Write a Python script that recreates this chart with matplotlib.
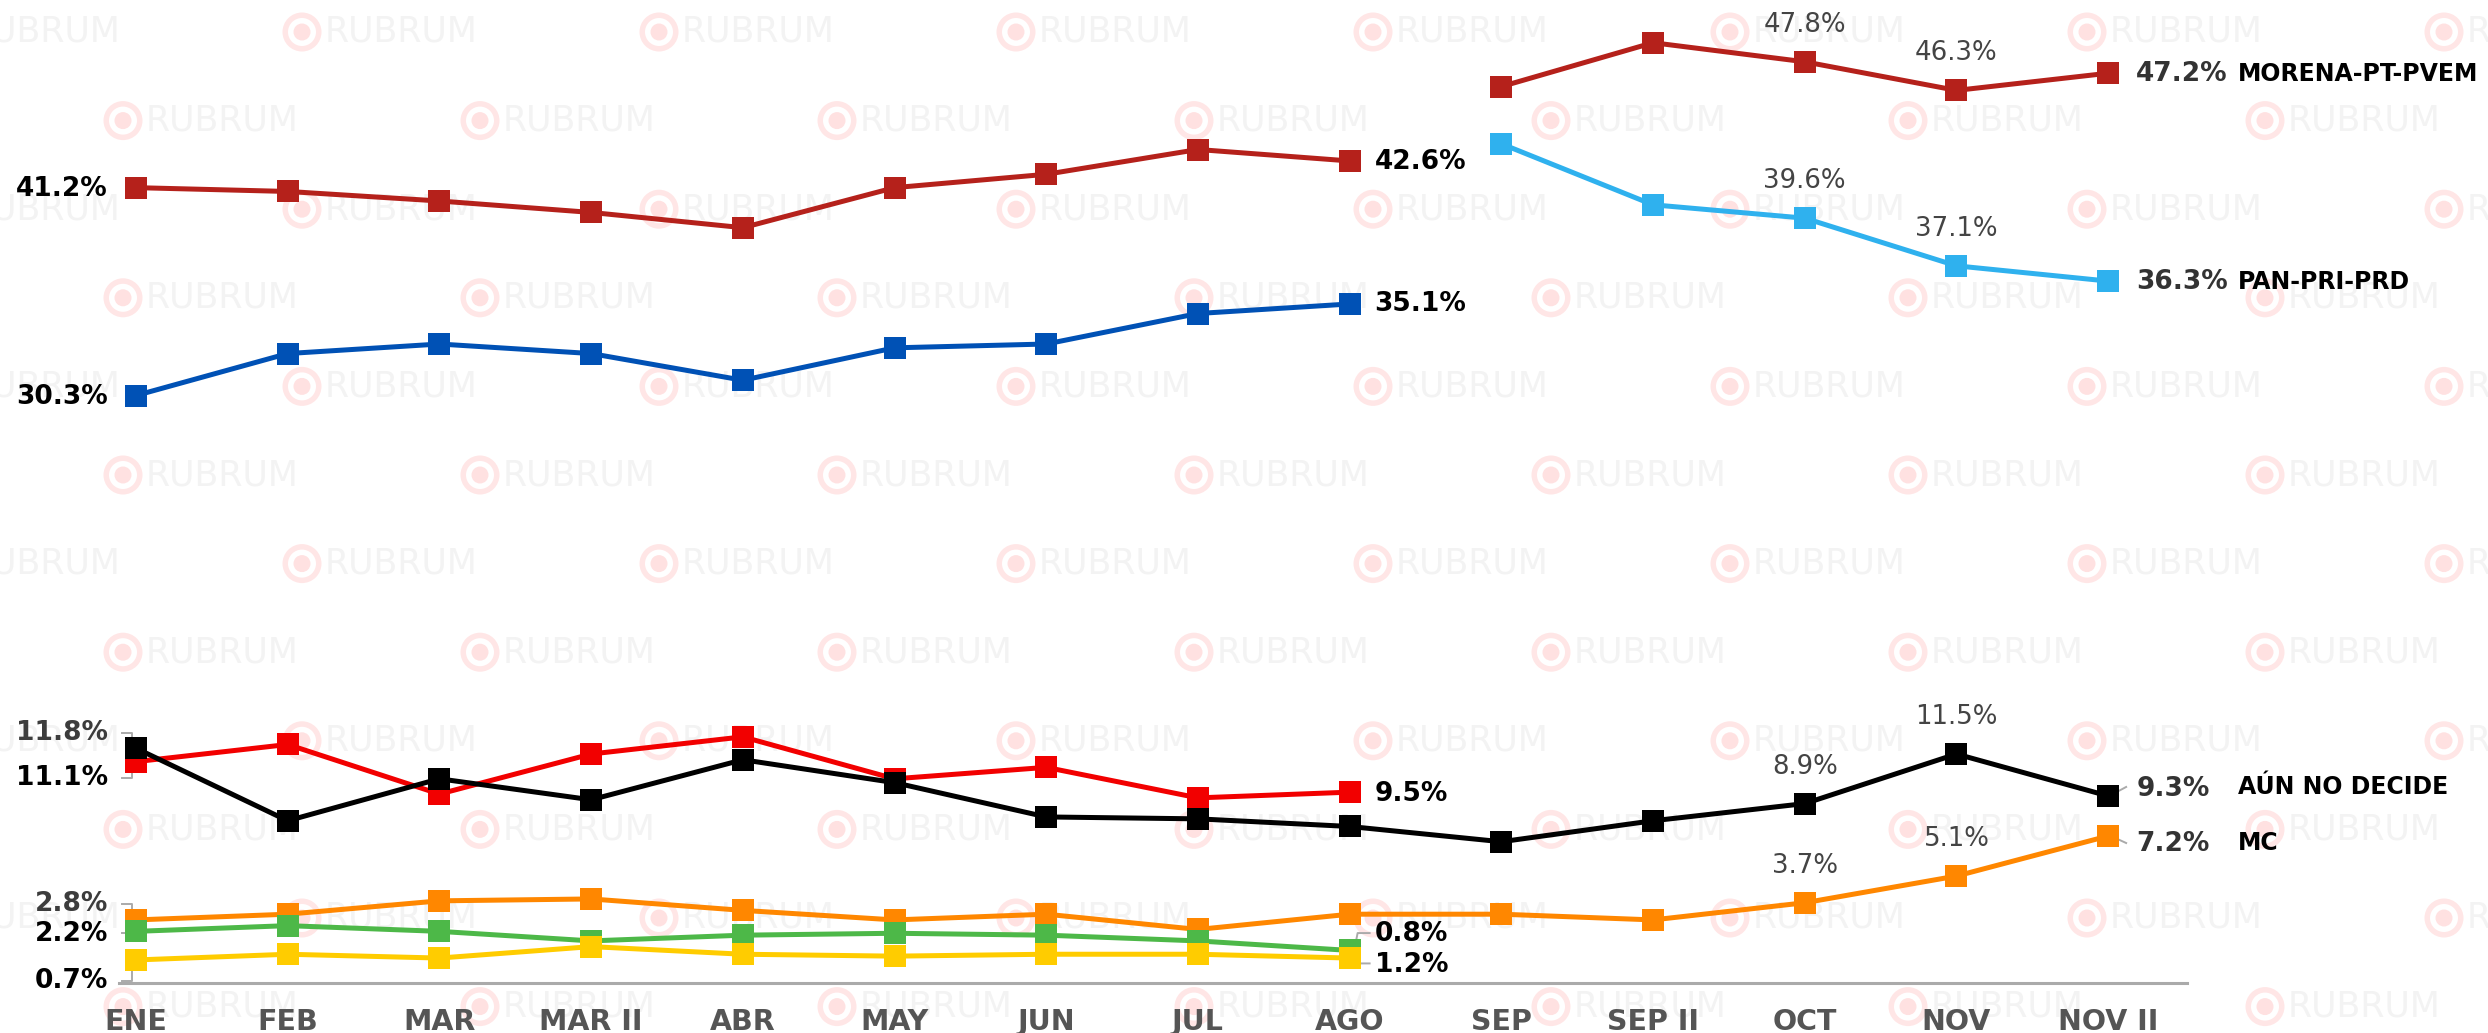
import matplotlib
matplotlib.use("Agg")
import matplotlib.pyplot as plt
from matplotlib.patches import Circle
from matplotlib.lines import Line2D
from matplotlib.transforms import IdentityTransform

# datos
meses = ['ENE', 'FEB', 'MAR', 'MAR II', 'ABR', 'MAY', 'JUN', 'JUL', 'AGO',
         'SEP', 'SEP II', 'OCT', 'NOV', 'NOV II']

morena = [41.2, 41.0, 40.5, 39.9, 39.1, 41.2, 41.9, 43.2, 42.6]
morena_pt_pvem = [46.5, 48.8, 47.8, 46.3, 47.2]
pan = [30.3, 32.5, 33.0, 32.5, 31.1, 32.8, 33.0, 34.6, 35.1]
pan_pri_prd = [43.5, 40.3, 39.6, 37.1, 36.3]
pri = [11.1, 12.0, 9.4, 11.5, 12.4, 10.2, 10.8, 9.2, 9.5]
no_decide = [11.8, 8.0, 10.2, 9.1, 11.2, 10.0, 8.2, 8.1, 7.7, 6.9, 8.0, 8.9, 11.5, 9.3]
mc = [2.8, 3.1, 3.8, 3.9, 3.3, 2.8, 3.1, 2.3, 3.1, 3.1, 2.8, 3.7, 5.1, 7.2]
verde = [2.2, 2.5, 2.2, 1.7, 2.0, 2.1, 2.0, 1.7, 1.2]
amarillo = [0.7, 1.0, 0.8, 1.4, 1.0, 0.9, 1.0, 1.0, 0.8]

x_ant = list(range(9))        # ENE..AGO
x_post = list(range(9, 14))   # SEP..NOV II
x_all = list(range(14))

W, H = 2488, 1033
fig = plt.figure(figsize=(W / 100, H / 100), dpi=100)
fig.patch.set_facecolor('white')
ax = fig.add_axes([0, 0, 1, 1])
ax.set_xlim(-0.8965, 15.504)
ax.set_ylim(-3.13, 51.04)
ax.set_facecolor('none')
ax.axis('off')

# marca de agua
for k in range(12):
    yc = H - (32 + 88.6 * k)
    base = 302 if k % 2 == 0 else 123
    for m in range(-1, 8):
        xc = base + 357 * m
        for r, c in [(19.5, '#FFE6E6'), (14, 'white'), (8.5, '#FFE1E1')]:
            fig.add_artist(Circle((xc, yc), r, transform=IdentityTransform(),
                                  facecolor=c, edgecolor='none', zorder=-3))
        fig.text(xc + 23, yc, 'RUBRUM', transform=IdentityTransform(),
                 ha='left', va='center', fontsize=25, fontweight='normal',
                 color='#F3F3F3', zorder=-3)

# eje
ax.axhline(-0.5, xmin=119 / W, xmax=2187 / W, color='#AAAAAA', lw=2.2, zorder=1)


def serie(x, y, color, z):
    ax.plot(x, y, color=color, lw=3.6, marker='s', ms=16.5, mew=0,
            zorder=z, solid_joinstyle='round')


serie(x_ant, morena, '#B5211B', 3)
serie(x_post, morena_pt_pvem, '#B5211B', 3)
serie(x_ant, pan, '#0051B5', 3)
serie(x_post, pan_pri_prd, '#2FB1EE', 3)
serie(x_ant, pri, '#F20000', 4)
serie(x_all, no_decide, '#000000', 5)
serie(x_all, mc, '#FF8700', 6)
serie(x_ant, verde, '#4DB848', 7)
serie(x_ant, amarillo, '#FFCC00', 8)


def etiqueta(i, v, dx, dy, ha='left', color='black', bold=True, size=19):
    ax.annotate(f"{v:.1f}%", xy=(i, v), xytext=(dx, dy), textcoords='offset pixels',
                ha=ha, va='center', fontsize=size,
                fontweight='bold' if bold else 'normal', color=color, zorder=10)


def guia(i, v, pts):
    x0, y0 = ax.transData.transform((i, v))
    ax.add_line(Line2D([x0 + p[0] for p in pts], [y0 + p[1] for p in pts],
                       transform=IdentityTransform(), color='#AAAAAA', lw=1.4, zorder=2))


# etiquetas iniciales (ENE)
etiqueta(0, morena[0], -28, -1, ha='right')
etiqueta(0, pan[0], -28, -1, ha='right')
etiqueta(0, no_decide[0], -28, 15, ha='right', color='#3C3C3C')
etiqueta(0, pri[0], -28, -16, ha='right')
etiqueta(0, mc[0], -28, 16, ha='right', color='#3C3C3C')
etiqueta(0, verde[0], -28, -3, ha='right')
etiqueta(0, amarillo[0], -28, -21, ha='right')
guia(0, no_decide[0], [(-14, 15), (-4, 15), (-4, 5)])
guia(0, pri[0], [(-14, -16), (-4, -16), (-4, -5)])
guia(0, mc[0], [(-14, 16), (-4, 16), (-4, 5)])
guia(0, verde[0], [(-14, -2), (-4, -2)])
guia(0, amarillo[0], [(-14, -21), (-4, -21), (-4, -5)])

# etiquetas AGO
etiqueta(8, morena[-1], 25, -1)
etiqueta(8, pan[-1], 25, 0)
etiqueta(8, pri[-1], 25, -2)
etiqueta(8, amarillo[-1], 25, 24)
etiqueta(8, verde[-1], 25, -15)
guia(8, amarillo[-1], [(20, 25), (8, 25), (3, 0)])
guia(8, verde[-1], [(20, -13), (8, -13), (3, 0)])

# etiquetas grises OCT / NOV
for serie_v in (morena_pt_pvem, pan_pri_prd):
    for j in (11, 12):
        etiqueta(j, serie_v[j - 9], 0, 37, ha='center', color='#444444', bold=False, size=18.7)
for serie_v in (no_decide, mc):
    for j in (11, 12):
        etiqueta(j, serie_v[j], 0, 37, ha='center', color='#444444', bold=False, size=18.7)

# etiquetas finales
nombres = [(morena_pt_pvem[-1], 'MORENA-PT-PVEM', -1, -1),
           (pan_pri_prd[-1], 'PAN-PRI-PRD', -1, -1),
           (no_decide[-1], 'AÚN NO DECIDE', 7, 9),
           (mc[-1], 'MC', -8, -7)]
for v, nombre, dy, dyn in nombres:
    etiqueta(13, v, 28, dy, color='#333333')
    ax.annotate(nombre, xy=(13, v), xytext=(130, dyn), textcoords='offset pixels',
                ha='left', va='center', fontsize=17, fontweight='bold', color='black')
guia(13, no_decide[-1], [(18, 9), (5, 2)])
guia(13, mc[-1], [(18, -7), (5, -1)])

# categorias
for i, m in enumerate(meses):
    ax.annotate(m, xy=(i, 11), xycoords=('data', 'figure pixels'),
                ha='center', va='center', fontsize=20.5, fontweight='bold',
                color='#555555')

fig.savefig('out.png', dpi=100, facecolor='white')
